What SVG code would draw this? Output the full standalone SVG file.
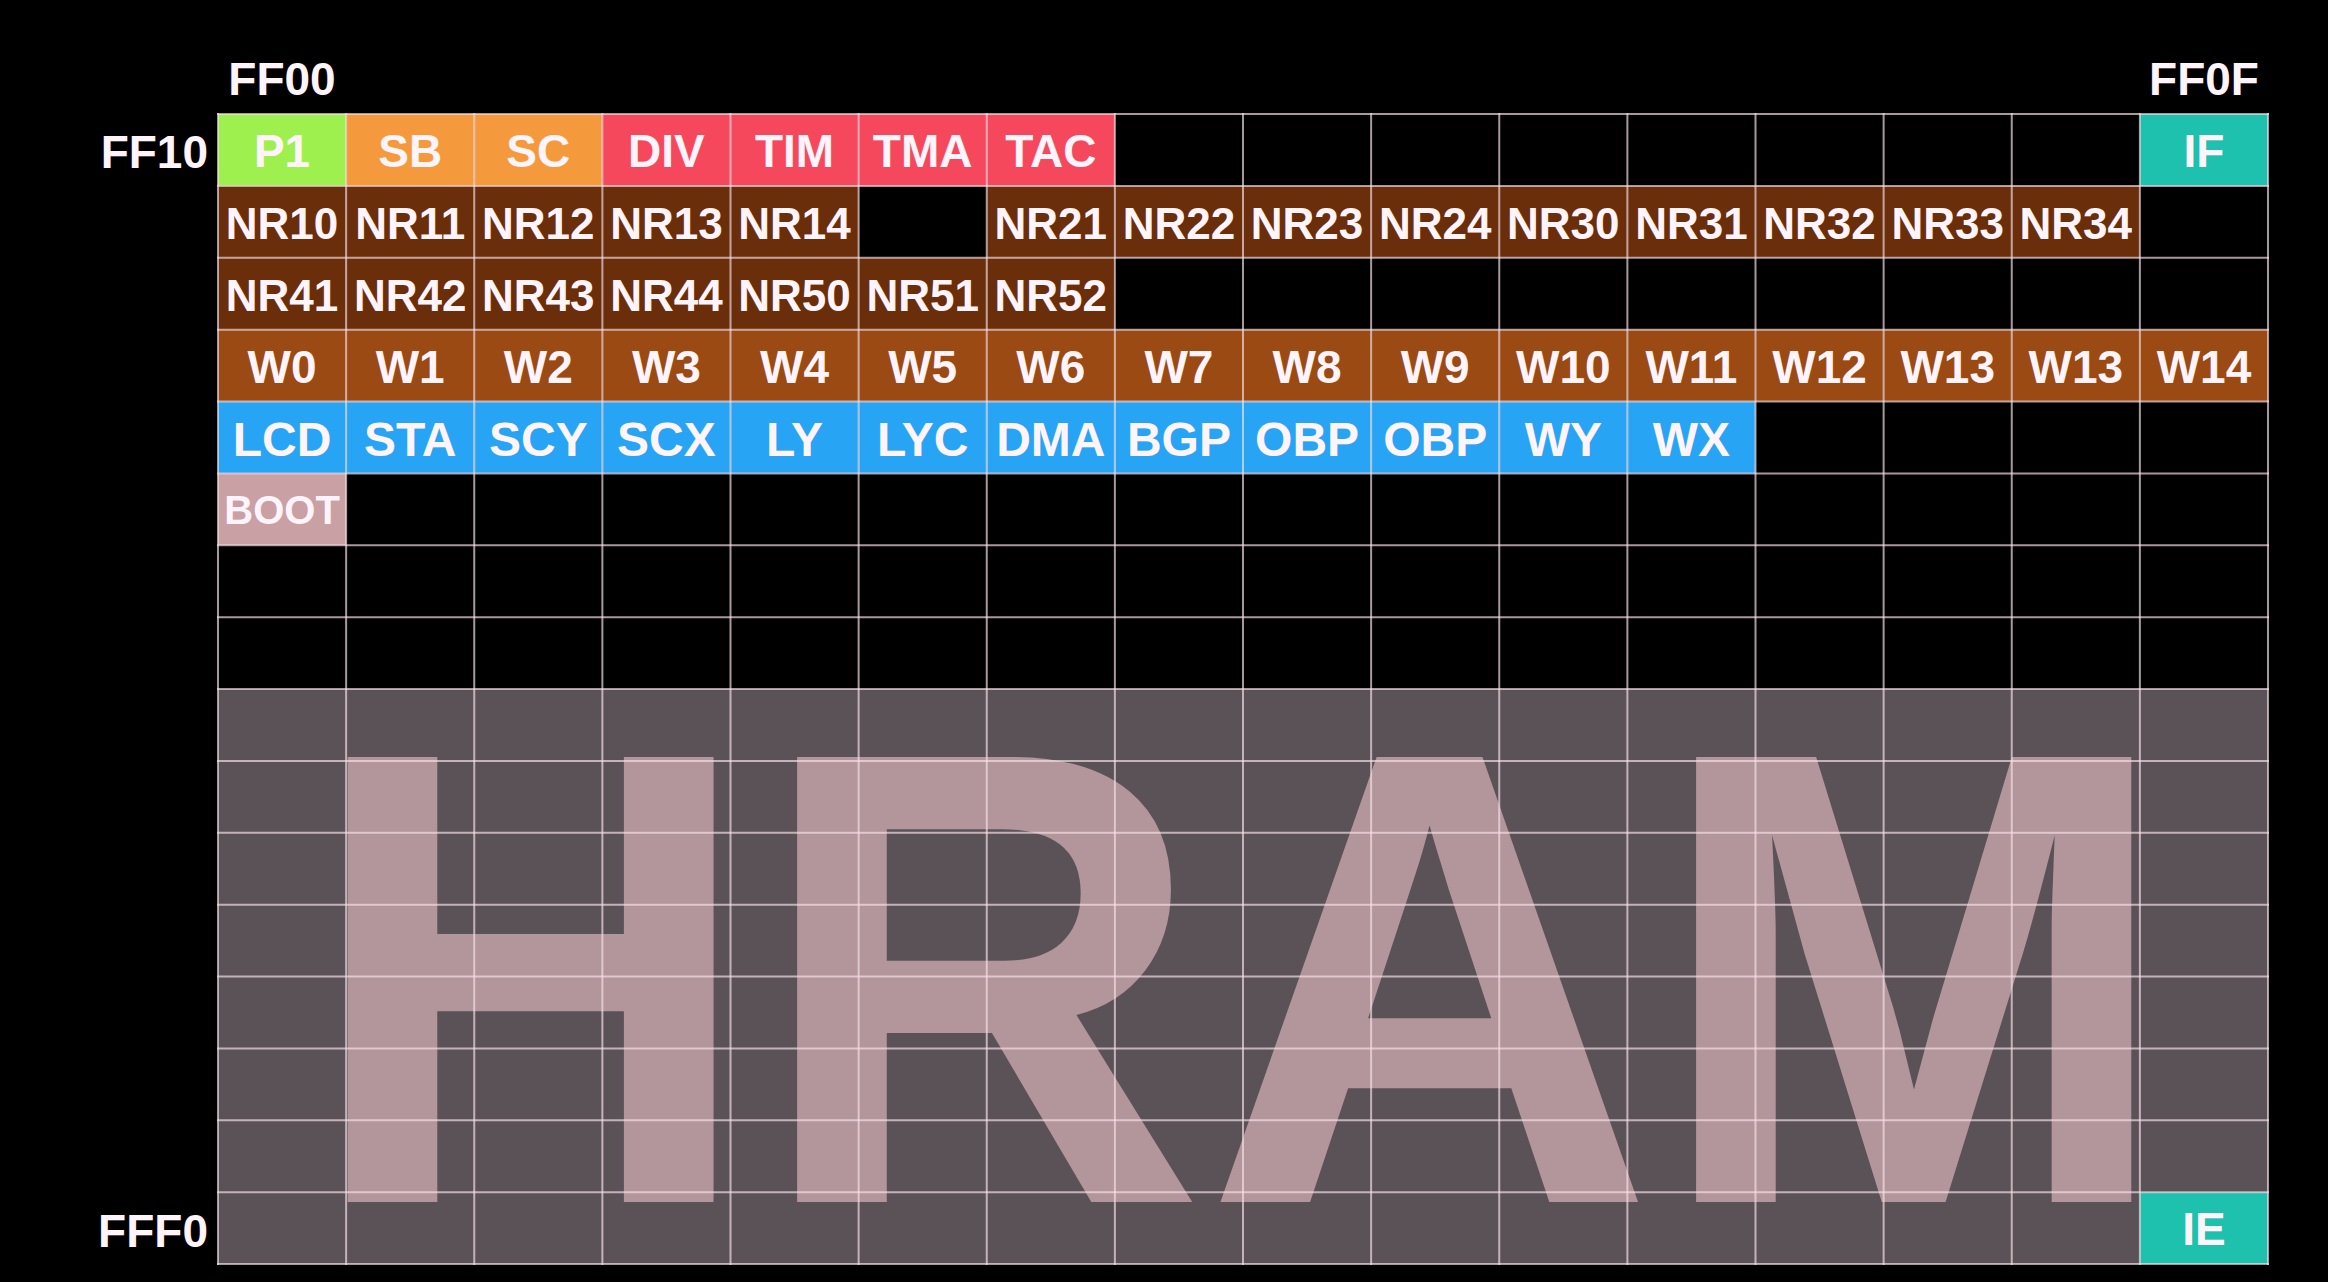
<svg xmlns="http://www.w3.org/2000/svg" width="2328" height="1282" viewBox="0 0 2328 1282">
<defs>
<style>
text{font-family:"Liberation Sans",Arial,Helvetica,sans-serif;font-weight:bold;fill:#fff4fa;text-anchor:middle}
.axis{font-size:46px}
.axl{text-anchor:end}
.lb{font-size:46px}
.nr{font-size:44px}
.lcd{font-size:48px}
.boot{font-size:40px}
.big{font-size:647px;fill:#b3959c;text-anchor:start}
.green{fill:#9ef04e}
.orange{fill:#f59a3c}
.red{fill:#f5485c}
.dbrown{fill:#6a2e0a}
.brown{fill:#9a4a12}
.blue{fill:#28a4f4}
.pink{fill:#c9a0a4}
.teal{fill:#1ec0ae}
.grid line{stroke:#f6e0e8;stroke-opacity:0.68;stroke-width:2}
</style>
</defs>
<rect x="0" y="0" width="2328" height="1282" fill="#000"/>

<g id="hram">
<rect x="218" y="689" width="2050" height="575" fill="#5b5258"/>
<text class="big" transform="translate(306,1202) scale(0.962,1)" x="0" y="0">HRAM</text>
</g>

<g id="axis-labels">
<text class="axis" x="282" y="95">FF00</text>
<text class="axis" x="2204" y="95">FF0F</text>
<text class="axis axl" x="208" y="168">FF10</text>
<text class="axis axl" x="208" y="1247">FFF0</text>
</g>

<!-- row 0 -->
<g id="P1"><rect class="green" x="218" y="114" width="128.125" height="71.875"/><text class="lb" x="282.06" y="167">P1</text></g>
<g id="SB"><rect class="orange" x="346.125" y="114" width="128.125" height="71.875"/><text class="lb" x="410.19" y="167">SB</text></g>
<g id="SC"><rect class="orange" x="474.25" y="114" width="128.125" height="71.875"/><text class="lb" x="538.31" y="167">SC</text></g>
<g id="DIV"><rect class="red" x="602.375" y="114" width="128.125" height="71.875"/><text class="lb" x="666.44" y="167">DIV</text></g>
<g id="TIM"><rect class="red" x="730.5" y="114" width="128.125" height="71.875"/><text class="lb" x="794.56" y="167">TIM</text></g>
<g id="TMA"><rect class="red" x="858.625" y="114" width="128.125" height="71.875"/><text class="lb" x="922.69" y="167">TMA</text></g>
<g id="TAC"><rect class="red" x="986.75" y="114" width="128.125" height="71.875"/><text class="lb" x="1050.81" y="167">TAC</text></g>
<g id="IF"><rect class="teal" x="2139.875" y="114" width="128.125" height="71.875"/><text class="lb" x="2203.94" y="167">IF</text></g>

<!-- row 1 -->
<g id="NR10"><rect class="dbrown" x="218" y="185.875" width="128.125" height="71.875"/><text class="nr" x="282.06" y="238.5">NR10</text></g>
<g id="NR11"><rect class="dbrown" x="346.125" y="185.875" width="128.125" height="71.875"/><text class="nr" x="410.19" y="238.5">NR11</text></g>
<g id="NR12"><rect class="dbrown" x="474.25" y="185.875" width="128.125" height="71.875"/><text class="nr" x="538.31" y="238.5">NR12</text></g>
<g id="NR13"><rect class="dbrown" x="602.375" y="185.875" width="128.125" height="71.875"/><text class="nr" x="666.44" y="238.5">NR13</text></g>
<g id="NR14"><rect class="dbrown" x="730.5" y="185.875" width="128.125" height="71.875"/><text class="nr" x="794.56" y="238.5">NR14</text></g>
<g id="NR21"><rect class="dbrown" x="986.75" y="185.875" width="128.125" height="71.875"/><text class="nr" x="1050.81" y="238.5">NR21</text></g>
<g id="NR22"><rect class="dbrown" x="1114.875" y="185.875" width="128.125" height="71.875"/><text class="nr" x="1178.94" y="238.5">NR22</text></g>
<g id="NR23"><rect class="dbrown" x="1243" y="185.875" width="128.125" height="71.875"/><text class="nr" x="1307.06" y="238.5">NR23</text></g>
<g id="NR24"><rect class="dbrown" x="1371.125" y="185.875" width="128.125" height="71.875"/><text class="nr" x="1435.19" y="238.5">NR24</text></g>
<g id="NR30"><rect class="dbrown" x="1499.25" y="185.875" width="128.125" height="71.875"/><text class="nr" x="1563.31" y="238.5">NR30</text></g>
<g id="NR31"><rect class="dbrown" x="1627.375" y="185.875" width="128.125" height="71.875"/><text class="nr" x="1691.44" y="238.5">NR31</text></g>
<g id="NR32"><rect class="dbrown" x="1755.5" y="185.875" width="128.125" height="71.875"/><text class="nr" x="1819.56" y="238.5">NR32</text></g>
<g id="NR33"><rect class="dbrown" x="1883.625" y="185.875" width="128.125" height="71.875"/><text class="nr" x="1947.69" y="238.5">NR33</text></g>
<g id="NR34"><rect class="dbrown" x="2011.75" y="185.875" width="128.125" height="71.875"/><text class="nr" x="2075.81" y="238.5">NR34</text></g>

<!-- row 2 -->
<g id="NR41"><rect class="dbrown" x="218" y="257.75" width="128.125" height="71.875"/><text class="nr" x="282.06" y="310.5">NR41</text></g>
<g id="NR42"><rect class="dbrown" x="346.125" y="257.75" width="128.125" height="71.875"/><text class="nr" x="410.19" y="310.5">NR42</text></g>
<g id="NR43"><rect class="dbrown" x="474.25" y="257.75" width="128.125" height="71.875"/><text class="nr" x="538.31" y="310.5">NR43</text></g>
<g id="NR44"><rect class="dbrown" x="602.375" y="257.75" width="128.125" height="71.875"/><text class="nr" x="666.44" y="310.5">NR44</text></g>
<g id="NR50"><rect class="dbrown" x="730.5" y="257.75" width="128.125" height="71.875"/><text class="nr" x="794.56" y="310.5">NR50</text></g>
<g id="NR51"><rect class="dbrown" x="858.625" y="257.75" width="128.125" height="71.875"/><text class="nr" x="922.69" y="310.5">NR51</text></g>
<g id="NR52"><rect class="dbrown" x="986.75" y="257.75" width="128.125" height="71.875"/><text class="nr" x="1050.81" y="310.5">NR52</text></g>

<!-- row 3 -->
<g id="W0"><rect class="brown" x="218" y="329.625" width="128.125" height="71.875"/><text class="lb" x="282.06" y="383">W0</text></g>
<g id="W1"><rect class="brown" x="346.125" y="329.625" width="128.125" height="71.875"/><text class="lb" x="410.19" y="383">W1</text></g>
<g id="W2"><rect class="brown" x="474.25" y="329.625" width="128.125" height="71.875"/><text class="lb" x="538.31" y="383">W2</text></g>
<g id="W3"><rect class="brown" x="602.375" y="329.625" width="128.125" height="71.875"/><text class="lb" x="666.44" y="383">W3</text></g>
<g id="W4"><rect class="brown" x="730.5" y="329.625" width="128.125" height="71.875"/><text class="lb" x="794.56" y="383">W4</text></g>
<g id="W5"><rect class="brown" x="858.625" y="329.625" width="128.125" height="71.875"/><text class="lb" x="922.69" y="383">W5</text></g>
<g id="W6"><rect class="brown" x="986.75" y="329.625" width="128.125" height="71.875"/><text class="lb" x="1050.81" y="383">W6</text></g>
<g id="W7"><rect class="brown" x="1114.875" y="329.625" width="128.125" height="71.875"/><text class="lb" x="1178.94" y="383">W7</text></g>
<g id="W8"><rect class="brown" x="1243" y="329.625" width="128.125" height="71.875"/><text class="lb" x="1307.06" y="383">W8</text></g>
<g id="W9"><rect class="brown" x="1371.125" y="329.625" width="128.125" height="71.875"/><text class="lb" x="1435.19" y="383">W9</text></g>
<g id="W10"><rect class="brown" x="1499.25" y="329.625" width="128.125" height="71.875"/><text class="lb" x="1563.31" y="383">W10</text></g>
<g id="W11"><rect class="brown" x="1627.375" y="329.625" width="128.125" height="71.875"/><text class="lb" x="1691.44" y="383">W11</text></g>
<g id="W12"><rect class="brown" x="1755.5" y="329.625" width="128.125" height="71.875"/><text class="lb" x="1819.56" y="383">W12</text></g>
<g id="W13a"><rect class="brown" x="1883.625" y="329.625" width="128.125" height="71.875"/><text class="lb" x="1947.69" y="383">W13</text></g>
<g id="W13b"><rect class="brown" x="2011.75" y="329.625" width="128.125" height="71.875"/><text class="lb" x="2075.81" y="383">W13</text></g>
<g id="W14"><rect class="brown" x="2139.875" y="329.625" width="128.125" height="71.875"/><text class="lb" x="2203.94" y="383">W14</text></g>

<!-- row 4 -->
<g id="LCD"><rect class="blue" x="218" y="401.5" width="128.125" height="71.875"/><text class="lcd" x="282.06" y="456">LCD</text></g>
<g id="STA"><rect class="blue" x="346.125" y="401.5" width="128.125" height="71.875"/><text class="lcd" x="410.19" y="456">STA</text></g>
<g id="SCY"><rect class="blue" x="474.25" y="401.5" width="128.125" height="71.875"/><text class="lcd" x="538.31" y="456">SCY</text></g>
<g id="SCX"><rect class="blue" x="602.375" y="401.5" width="128.125" height="71.875"/><text class="lcd" x="666.44" y="456">SCX</text></g>
<g id="LY"><rect class="blue" x="730.5" y="401.5" width="128.125" height="71.875"/><text class="lcd" x="794.56" y="456">LY</text></g>
<g id="LYC"><rect class="blue" x="858.625" y="401.5" width="128.125" height="71.875"/><text class="lcd" x="922.69" y="456">LYC</text></g>
<g id="DMA"><rect class="blue" x="986.75" y="401.5" width="128.125" height="71.875"/><text class="lcd" x="1050.81" y="456">DMA</text></g>
<g id="BGP"><rect class="blue" x="1114.875" y="401.5" width="128.125" height="71.875"/><text class="lcd" x="1178.94" y="456">BGP</text></g>
<g id="OBP0"><rect class="blue" x="1243" y="401.5" width="128.125" height="71.875"/><text class="lcd" x="1307.06" y="456">OBP</text></g>
<g id="OBP1"><rect class="blue" x="1371.125" y="401.5" width="128.125" height="71.875"/><text class="lcd" x="1435.19" y="456">OBP</text></g>
<g id="WY"><rect class="blue" x="1499.25" y="401.5" width="128.125" height="71.875"/><text class="lcd" x="1563.31" y="456">WY</text></g>
<g id="WX"><rect class="blue" x="1627.375" y="401.5" width="128.125" height="71.875"/><text class="lcd" x="1691.44" y="456">WX</text></g>

<!-- row 5 -->
<g id="BOOT"><rect class="pink" x="218" y="473.375" width="128.125" height="71.875"/><text class="boot" x="282.06" y="524">BOOT</text></g>

<!-- row 15 -->
<g id="IE"><rect class="teal" x="2139.875" y="1192.125" width="128.125" height="71.875"/><text class="lb" x="2203.94" y="1245">IE</text></g>

<g id="grid" class="grid">
<line x1="218" y1="113" x2="218" y2="1265"/>
<line x1="346.125" y1="113" x2="346.125" y2="1265"/>
<line x1="474.25" y1="113" x2="474.25" y2="1265"/>
<line x1="602.375" y1="113" x2="602.375" y2="1265"/>
<line x1="730.5" y1="113" x2="730.5" y2="1265"/>
<line x1="858.625" y1="113" x2="858.625" y2="1265"/>
<line x1="986.75" y1="113" x2="986.75" y2="1265"/>
<line x1="1114.875" y1="113" x2="1114.875" y2="1265"/>
<line x1="1243" y1="113" x2="1243" y2="1265"/>
<line x1="1371.125" y1="113" x2="1371.125" y2="1265"/>
<line x1="1499.25" y1="113" x2="1499.25" y2="1265"/>
<line x1="1627.375" y1="113" x2="1627.375" y2="1265"/>
<line x1="1755.5" y1="113" x2="1755.5" y2="1265"/>
<line x1="1883.625" y1="113" x2="1883.625" y2="1265"/>
<line x1="2011.75" y1="113" x2="2011.75" y2="1265"/>
<line x1="2139.875" y1="113" x2="2139.875" y2="1265"/>
<line x1="2268" y1="113" x2="2268" y2="1265"/>
<line x1="217" y1="114" x2="2269" y2="114"/>
<line x1="217" y1="185.875" x2="2269" y2="185.875"/>
<line x1="217" y1="257.75" x2="2269" y2="257.75"/>
<line x1="217" y1="329.625" x2="2269" y2="329.625"/>
<line x1="217" y1="401.5" x2="2269" y2="401.5"/>
<line x1="217" y1="473.375" x2="2269" y2="473.375"/>
<line x1="217" y1="545.25" x2="2269" y2="545.25"/>
<line x1="217" y1="617.125" x2="2269" y2="617.125"/>
<line x1="217" y1="689" x2="2269" y2="689"/>
<line x1="217" y1="760.875" x2="2269" y2="760.875"/>
<line x1="217" y1="832.75" x2="2269" y2="832.75"/>
<line x1="217" y1="904.625" x2="2269" y2="904.625"/>
<line x1="217" y1="976.5" x2="2269" y2="976.5"/>
<line x1="217" y1="1048.375" x2="2269" y2="1048.375"/>
<line x1="217" y1="1120.25" x2="2269" y2="1120.25"/>
<line x1="217" y1="1192.125" x2="2269" y2="1192.125"/>
<line x1="217" y1="1264" x2="2269" y2="1264"/>
</g>
</svg>
